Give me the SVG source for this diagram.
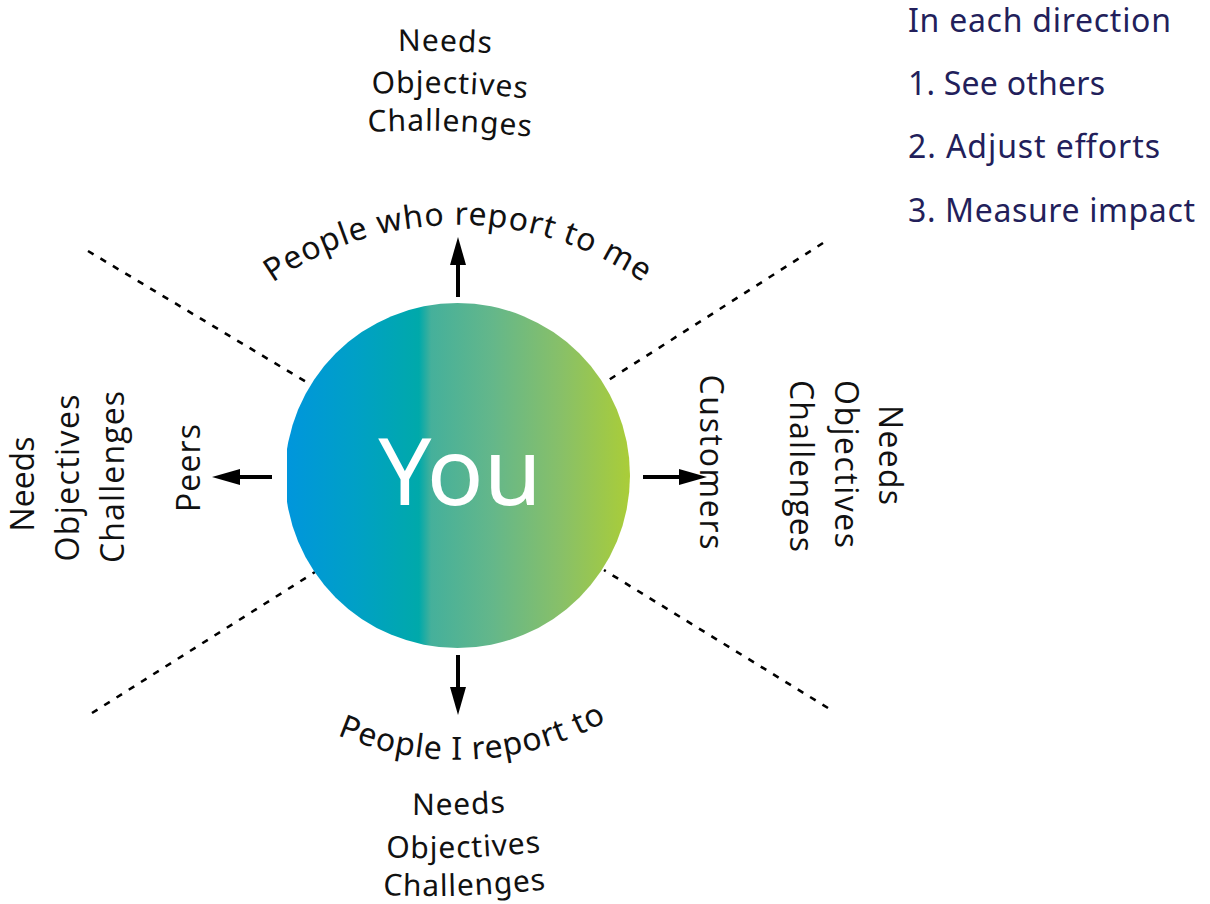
<svg xmlns="http://www.w3.org/2000/svg" width="1210" height="904" viewBox="0 0 1210 904">
  <style>
    .geo { font-family: "Noto Sans", "Open Sans", sans-serif; fill: #111; }
    .side { font-family: "Open Sans", "Noto Sans", sans-serif; font-size: 32px; fill: #111; }
    .arc { font-size: 32px; letter-spacing: 0.9px; }
    .noc { font-size: 30px; }
    .list { font-family: "Noto Sans", "Open Sans", sans-serif; font-size: 32px; fill: #231f5b; }
    .divider { stroke: #000; stroke-width: 2.6; stroke-dasharray: 6.5 8; fill: none; }
    .shaft { stroke: #000; stroke-width: 4; fill: none; }
  </style>
  <defs>
    <linearGradient id="youFill" gradientUnits="userSpaceOnUse" x1="287" y1="0" x2="630" y2="0">
      <stop offset="0" stop-color="#0096dc"/>
      <stop offset="0.2" stop-color="#00a0c6"/>
      <stop offset="0.385" stop-color="#00a9aa"/>
      <stop offset="0.42" stop-color="#45b09b"/>
      <stop offset="0.6" stop-color="#64b78a"/>
      <stop offset="0.8" stop-color="#88c068"/>
      <stop offset="1" stop-color="#aacd38"/>
    </linearGradient>
    <clipPath id="youClip">
      <rect x="287" y="290" width="360" height="370"/>
    </clipPath>
    <marker id="head" markerUnits="userSpaceOnUse" markerWidth="30" markerHeight="17" refX="1" refY="8" orient="auto">
      <path d="M0,0 L28,8 L0,16 z" fill="#000"/>
    </marker>
    <!-- baselines for curved labels -->
    <path id="arcTop" d="M 209 341 A 325 325 0 0 1 707 341"/>
    <path id="arcBottom" d="M 194 607.5 A 305 305 0 0 0 722 607.5"/>
    <path id="topNeeds" d="M 340 54 A 1000 1000 0 0 1 600 67"/>
    <path id="topObjectives" d="M 340 96 A 1000 1000 0 0 1 600 109"/>
    <path id="topChallenges" d="M 340 134 A 1000 1000 0 0 1 600 147"/>
    <path id="botNeeds" d="M 340 811 A 1000 1000 0 0 0 600 800.5"/>
    <path id="botObjectives" d="M 340 854 A 1000 1000 0 0 0 600 843.5"/>
    <path id="botChallenges" d="M 340 892 A 1000 1000 0 0 0 600 881.5"/>
  </defs>

  <!-- quadrant dividers and direction arrows -->
  <g id="connectors">
    <line class="divider" x1="88" y1="251" x2="313" y2="386"/>
    <line class="divider" x1="823" y1="243" x2="604" y2="383"/>
    <line class="divider" x1="92" y1="713" x2="315" y2="572"/>
    <line class="divider" x1="828" y1="708" x2="604" y2="570"/>
    <line class="shaft" x1="458" y1="297" x2="458" y2="264" marker-end="url(#head)"/>
    <line class="shaft" x1="458" y1="655" x2="458" y2="688" marker-end="url(#head)"/>
    <line class="shaft" x1="643" y1="477" x2="680" y2="477" marker-end="url(#head)"/>
    <line class="shaft" x1="272" y1="477" x2="239" y2="477" marker-end="url(#head)"/>
  </g>

  <g id="you">
    <circle cx="457.5" cy="475.5" r="172.5" fill="url(#youFill)" clip-path="url(#youClip)"/>
    <text x="460" y="505" font-family="Noto Sans, Open Sans, sans-serif" font-size="94" text-anchor="middle" fill="#fff">You</text>
  </g>

  <g id="reports-to-me">
    <text class="geo arc"><textPath href="#arcTop" startOffset="50%" text-anchor="middle">People who report to me</textPath></text>
    <text class="geo noc"><textPath href="#topNeeds" startOffset="58" letter-spacing="1">Needs</textPath></text>
    <text class="geo noc"><textPath href="#topObjectives" startOffset="32" letter-spacing="1">Objectives</textPath></text>
    <text class="geo noc"><textPath href="#topChallenges" startOffset="28" letter-spacing="0.9">Challenges</textPath></text>
  </g>

  <g id="i-report-to">
    <text class="geo arc"><textPath href="#arcBottom" startOffset="335" text-anchor="middle">People I report to</textPath></text>
    <text class="geo noc"><textPath href="#botNeeds" startOffset="72" letter-spacing="1">Needs</textPath></text>
    <text class="geo noc"><textPath href="#botObjectives" startOffset="46" letter-spacing="1">Objectives</textPath></text>
    <text class="geo noc"><textPath href="#botChallenges" startOffset="43" letter-spacing="0.9">Challenges</textPath></text>
  </g>

  <g id="peers">
    <text class="side" transform="translate(200 468) rotate(-90)" text-anchor="middle" textLength="88">Peers</text>
    <text class="side" transform="translate(34 484) rotate(-90)" text-anchor="middle" textLength="95">Needs</text>
    <text class="side" transform="translate(79 478) rotate(-90)" text-anchor="middle" textLength="167">Objectives</text>
    <text class="side" transform="translate(124 477) rotate(-90)" text-anchor="middle" textLength="172">Challenges</text>
  </g>

  <g id="customers">
    <text class="side" transform="translate(700 462) rotate(90)" text-anchor="middle" textLength="175">Customers</text>
    <text class="side" transform="translate(879 455) rotate(90)" text-anchor="middle" textLength="100">Needs</text>
    <text class="side" transform="translate(835 464) rotate(90)" text-anchor="middle" textLength="168">Objectives</text>
    <text class="side" transform="translate(790 466) rotate(90)" text-anchor="middle" textLength="172">Challenges</text>
  </g>

  <g id="steps">
    <text class="list" x="908" y="32" textLength="263">In each direction</text>
    <text class="list" x="908" y="95" textLength="197">1. See others</text>
    <text class="list" x="908" y="158" textLength="252">2. Adjust efforts</text>
    <text class="list" x="908" y="222" textLength="287">3. Measure impact</text>
  </g>
</svg>
